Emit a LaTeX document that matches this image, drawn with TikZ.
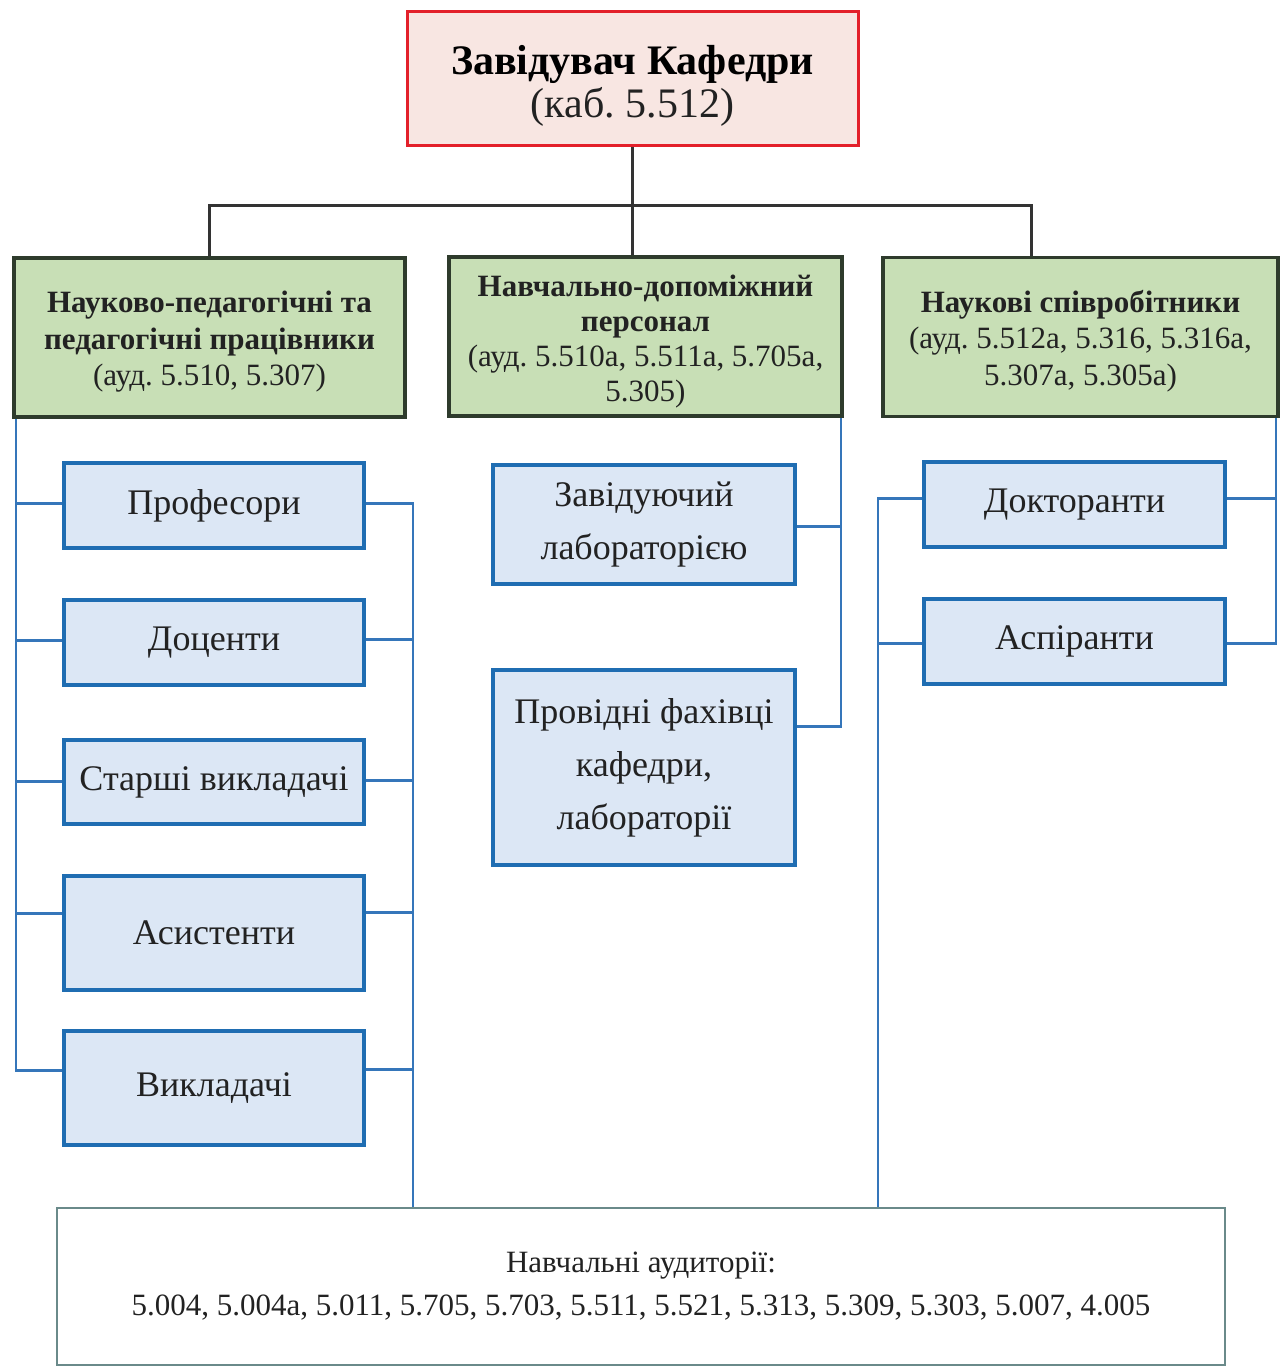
\documentclass[tikz,border=0pt]{standalone}
\usepackage{fontspec}
\setmainfont{Liberation Serif}
\definecolor{topred}{HTML}{E3202A}
\definecolor{topfill}{HTML}{F8E6E2}
\definecolor{grfill}{HTML}{C8DFB6}
\definecolor{grdraw}{HTML}{2E3B2C}
\definecolor{blfill}{HTML}{DCE7F5}
\definecolor{bldraw}{HTML}{1F6DB2}
\definecolor{blline}{HTML}{3576BA}
\definecolor{botdraw}{HTML}{6A8A8A}
\definecolor{txt}{HTML}{222222}
\newcommand{\lift}[1]{\rule{0pt}{#1pt}}
\tikzset{
  every node/.style={inner sep=0pt, align=center, text=txt},
  topbox/.style={draw=topred, line width=3pt, fill=topfill, minimum width=451pt, minimum height=134pt, font=\fontsize{42}{43}\selectfont\frenchspacing},
  grbox/.style={draw=grdraw, line width=3.5pt, fill=grfill, minimum height=159pt, font=\fontsize{31}{36.5}\selectfont\frenchspacing},
  blbox/.style={draw=bldraw, line width=3.5pt, fill=blfill, font=\fontsize{36}{53}\selectfont\frenchspacing},
  botbox/.style={draw=botdraw, line width=1.2pt, fill=white, minimum width=1168pt, minimum height=157pt, font=\fontsize{31}{43}\selectfont\frenchspacing},
  trunk/.style={draw=black!80, line width=3pt},
  conn/.style={draw=blline, line width=2.8pt},
}
\begin{document}
\begin{tikzpicture}[x=1pt, y=-1pt]
\useasboundingbox (0,0) rectangle (1286,1367);
\fill[white] (0,0) rectangle (1286,1367);

% nodes
\node[topbox] (top) at (632.5,79) {\lift{42}{\bfseries\color{black}Завідувач Кафедри}\\(каб. 5.512)};

\node[grbox, minimum width=391pt] (gL) at (209.5,337.5) {\lift{30}{\bfseries Науково-педагогічні та}\\{\bfseries педагогічні працівники}\\(ауд. 5.510, 5.307)};
\node[grbox, minimum width=393pt, font=\fontsize{31}{35}\selectfont\frenchspacing] (gM) at (645.5,336.5) {\lift{32}{\bfseries Навчально-допоміжний}\\{\bfseries персонал}\\(ауд. 5.510а, 5.511а, 5.705а,\\5.305)};
\node[grbox, minimum width=395pt] (gR) at (1080.5,337) {\lift{30}{\bfseries Наукові співробітники}\\(ауд. 5.512а, 5.316, 5.316а,\\5.307а, 5.305а)};

\node[blbox, minimum width=300pt, minimum height=85pt] (prof) at (214,505.5) {Професори};
\node[blbox, minimum width=300pt, minimum height=85pt] (doc) at (214,642.5) {Доценти};
\node[blbox, minimum width=300pt, minimum height=84pt] (star) at (214,782) {Старші викладачі};
\node[blbox, minimum width=300pt, minimum height=114pt] (asys) at (214,933) {Асистенти};
\node[blbox, minimum width=300pt, minimum height=114pt] (vykl) at (214,1088) {Викладачі};

\node[blbox, minimum width=302pt, minimum height=119pt] (zav) at (644,524.5) {Завідуючий\\лабораторією};
\node[blbox, minimum width=302pt, minimum height=195pt] (prov) at (644,767.5) {Провідні фахівці\\кафедри,\\лабораторії};

\node[blbox, minimum width=301pt, minimum height=85pt] (dokt) at (1074.5,504.5) {Докторанти};
\node[blbox, minimum width=301pt, minimum height=85pt] (asp) at (1074.5,641.5) {Аспіранти};

\node[botbox] (bot) at (641,1286.5) {Навчальні аудиторії:\\5.004, 5.004а, 5.011, 5.705, 5.703, 5.511, 5.521, 5.313, 5.309, 5.303, 5.007, 4.005};

% coordinates
\coordinate (busR) at (1031,205);
\coordinate (lx) at (16,0);
\coordinate (rx) at (413,0);
\coordinate (mx) at (841,0);
\coordinate (qx) at (878,0);
\coordinate (sx) at (1276,0);

% trunk
\draw[trunk] (top.south) -- (top.south |- gM.north);
\draw[trunk] (gL.north) |- (busR) -- (busR |- gR.north);

% left column, left side
\draw[conn] (gL.south -| lx) |- ([yshift=-41pt]vykl.north west);
\foreach \n/\o in {prof/42, doc/42, star/43, asys/39}
  \draw[conn] ([yshift=-\o pt]\n.north west) -- ([yshift=-\o pt]\n.north west -| lx);
% left column, right side
\draw[conn] ([yshift=-42pt]prof.north east) -| (bot.north -| rx);
\foreach \n/\o in {doc/41, star/42, asys/38, vykl/40}
  \draw[conn] ([yshift=-\o pt]\n.north east) -- ([yshift=-\o pt]\n.north east -| rx);

% middle column
\draw[conn] (gM.south -| mx) |- ([yshift=-58pt]prov.north east);
\draw[conn] ([yshift=-63pt]zav.north east) -- ([yshift=-63pt]zav.north east -| mx);

% right column
\draw[conn] (gR.south -| sx) |- ([yshift=-46pt]asp.north east);
\draw[conn] ([yshift=-38pt]dokt.north east) -- ([yshift=-38pt]dokt.north east -| sx);
\draw[conn] ([yshift=-38pt]dokt.north west) -| (bot.north -| qx);
\draw[conn] ([yshift=-46pt]asp.north west) -- ([yshift=-46pt]asp.north west -| qx);
\end{tikzpicture}
\end{document}
